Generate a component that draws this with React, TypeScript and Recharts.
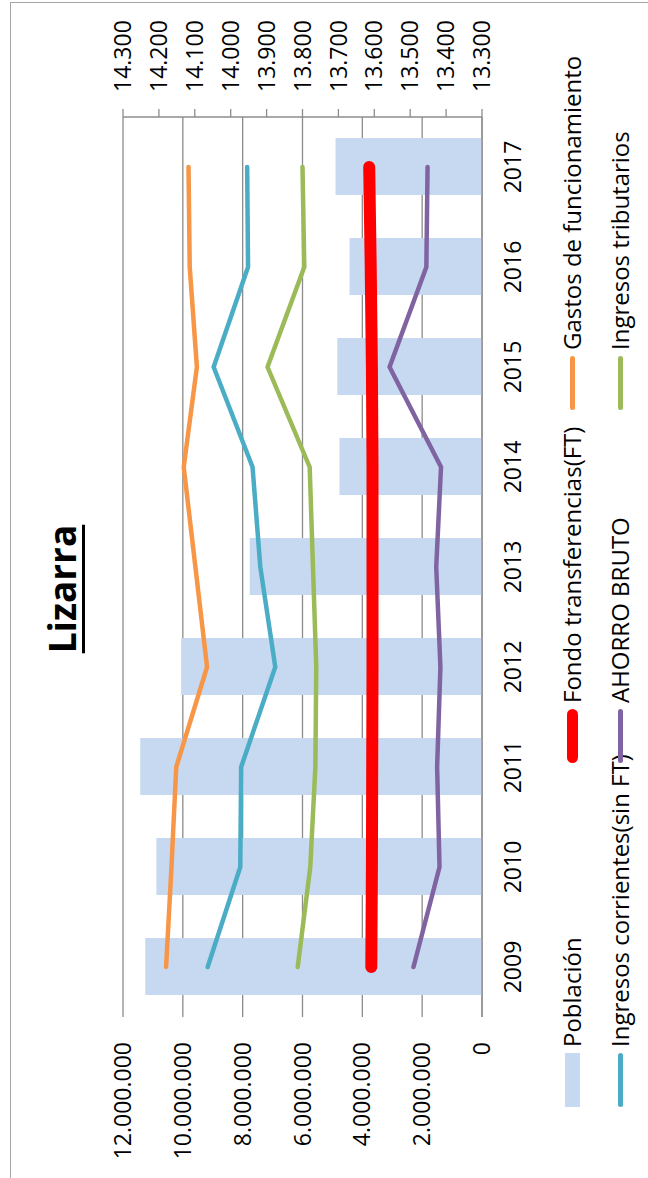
import React from 'react';
import { ComposedChart, Bar, Line, XAxis, YAxis, CartesianGrid } from 'recharts';

const years = ['2009', '2010', '2011', '2012', '2013', '2014', '2015', '2016', '2017'];
const poblacion = [14238, 14207, 14252, 14138, 13947, 13697, 13703, 13669, 13708];
const ingresosCorrientes = [9170000, 8080000, 8050000, 6910000, 7410000, 7670000, 8970000, 7820000, 7850000];
const gastos = [10560000, 10380000, 10220000, 9190000, 9580000, 9970000, 9530000, 9770000, 9810000];
const fondo = [3700000, 3680000, 3670000, 3660000, 3660000, 3660000, 3680000, 3720000, 3770000];
const ahorro = [2290000, 1420000, 1500000, 1390000, 1530000, 1370000, 3090000, 1860000, 1820000];
const tributarios = [6160000, 5740000, 5570000, 5540000, 5650000, 5760000, 7170000, 5940000, 6000000];

const leftTicks = [0, 2000000, 4000000, 6000000, 8000000, 10000000, 12000000];
const rightTicks = [13300, 13400, 13500, 13600, 13700, 13800, 13900, 14000, 14100, 14200, 14300];
const boundaryTicks = [0, 1, 2, 3, 4, 5, 6, 7, 8, 9];

const data = years.map((y, i) => ({
  year: y,
  poblacion: poblacion[i],
  ingresosCorrientes: ingresosCorrientes[i],
  gastos: gastos[i],
  fondo: fondo[i],
  ahorro: ahorro[i],
  tributarios: tributarios[i],
}));

const W = 1178;
const H = 648;
const FONT = '"Open Sans", sans-serif';
const GRID = '#8C8C8C';

const fmt = (v: number) => String(Math.round(v)).replace(/\B(?=(\d{3})+(?!\d))/g, '.');

const LeftTick = (props: any) => {
  const { y, payload } = props;
  return (
    <text x={136} y={y} dy="0.355em" textAnchor="end" fontSize={23} fontFamily={FONT} fill="#000">
      {fmt(payload.value)}
    </text>
  );
};

const RightTick = (props: any) => {
  const { y, payload } = props;
  return (
    <text x={1086} y={y} dy="0.355em" textAnchor="start" fontSize={23} fontFamily={FONT} fill="#000">
      {fmt(payload.value)}
    </text>
  );
};

const XTick = (props: any) => {
  const { x, payload } = props;
  return (
    <text x={x} y={505} dy="0.71em" textAnchor="middle" fontSize={23} fontFamily={FONT} fill="#000">
      {payload.value}
    </text>
  );
};

type LegendItem = { label: string; color: string; kind: 'rect' | 'line'; thick: number; left: number; top: number };

const legendItems: LegendItem[] = [
  { label: 'Población', color: '#C6D9F1', kind: 'rect', thick: 15, left: 71, top: 572 },
  { label: 'Fondo transferencias(FT)', color: '#FF0000', kind: 'line', thick: 11, left: 415, top: 572 },
  { label: 'Gastos de funcionamiento', color: '#F79646', kind: 'line', thick: 5, left: 768, top: 572 },
  { label: 'Ingresos corrientes(sin FT)', color: '#4BACC6', kind: 'line', thick: 5, left: 71, top: 620 },
  { label: 'AHORRO BRUTO', color: '#8064A2', kind: 'line', thick: 5, left: 415, top: 620 },
  { label: 'Ingresos tributarios', color: '#9BBB59', kind: 'line', thick: 5, left: 768, top: 620 },
];

const ChartLegend = () => (
  <>
    {legendItems.map((it) => (
      <div
        key={it.label}
        style={{
          position: 'absolute',
          left: it.left,
          top: it.top - 15,
          height: 30,
          display: 'flex',
          alignItems: 'center',
          whiteSpace: 'nowrap',
          fontFamily: FONT,
          fontSize: 24,
          lineHeight: 1,
          color: '#000',
        }}
      >
        <div
          style={{
            width: 54,
            height: it.thick,
            background: it.color,
            borderRadius: it.kind === 'line' ? it.thick / 2 : 0,
            marginRight: 6,
            flex: '0 0 auto',
          }}
        />
        <span>{it.label}</span>
      </div>
    ))}
  </>
);

export default function App() {
  return (
    <div
      style={{
        position: 'absolute',
        left: 0,
        top: 0,
        width: 648,
        height: 1178,
        overflow: 'hidden',
        background: '#fff',
      }}
    >
      <div
        style={{
          position: 'absolute',
          left: 0,
          top: 0,
          width: W,
          height: H,
          transformOrigin: '0 0',
          transform: 'translate(0px, 1178px) rotate(-90deg)',
          background: '#fff',
        }}
      >
        <div
          style={{
            position: 'absolute',
            left: -20,
            top: 10,
            width: 1196,
            height: 700,
            border: '1px solid #A6A6A6',
            boxSizing: 'border-box',
          }}
        />
        <div
          style={{
            position: 'absolute',
            left: 0,
            top: 43,
            width: W,
            textAlign: 'center',
            fontFamily: FONT,
            fontWeight: 700,
            fontSize: 37,
            lineHeight: 1,
            color: '#000',
          }}
        >
          <span style={{ textDecoration: 'underline', textDecorationThickness: 3, textUnderlineOffset: 6 }}>Lizarra</span>
        </div>
        <div style={{ position: 'absolute', left: 0, top: 0 }}>
          <ComposedChart width={W} height={H} data={data} margin={{ top: 123, right: 0, bottom: 0, left: 0 }}>
            <CartesianGrid xAxisId="cat" yAxisId="left" vertical={false} horizontal stroke={GRID} strokeWidth={1.3} />
            <XAxis
              xAxisId={0}
              type="number"
              domain={[0, 9]}
              ticks={boundaryTicks}
              allowDataOverflow
              height={0}
              axisLine={false}
              tick={false}
              tickLine={{ stroke: GRID, strokeWidth: 1.3 }}
              tickSize={5}
              interval={0}
            />
            <XAxis
              xAxisId="cat"
              dataKey="year"
              height={166}
              axisLine={{ stroke: GRID, strokeWidth: 1.3 }}
              tickLine={false}
              tick={<XTick />}
              interval={0}
            />
            <YAxis
              yAxisId="left"
              width={161}
              domain={[0, 12000000]}
              ticks={leftTicks}
              axisLine={false}
              tickLine={false}
              tick={<LeftTick />}
              interval={0}
            />
            <YAxis
              yAxisId="right"
              orientation="right"
              width={117}
              domain={[13300, 14300]}
              ticks={rightTicks}
              axisLine={{ stroke: GRID, strokeWidth: 1.3 }}
              tickLine={{ stroke: GRID, strokeWidth: 1.3 }}
              tickSize={8}
              tick={<RightTick />}
              interval={0}
            />
            <Bar xAxisId="cat" yAxisId="right" dataKey="poblacion" fill="#C6D9F1" barSize={57} isAnimationActive={false} />
            <Line xAxisId="cat" yAxisId="left" type="linear" dataKey="ingresosCorrientes" stroke="#4BACC6" strokeWidth={4.5} strokeLinecap="round" strokeLinejoin="round" dot={false} activeDot={false} isAnimationActive={false} />
            <Line xAxisId="cat" yAxisId="left" type="linear" dataKey="gastos" stroke="#F79646" strokeWidth={4.5} strokeLinecap="round" strokeLinejoin="round" dot={false} activeDot={false} isAnimationActive={false} />
            <Line xAxisId="cat" yAxisId="left" type="linear" dataKey="tributarios" stroke="#9BBB59" strokeWidth={4.5} strokeLinecap="round" strokeLinejoin="round" dot={false} activeDot={false} isAnimationActive={false} />
            <Line xAxisId="cat" yAxisId="left" type="linear" dataKey="fondo" stroke="#FF0000" strokeWidth={12} strokeLinecap="round" strokeLinejoin="round" dot={false} activeDot={false} isAnimationActive={false} />
            <Line xAxisId="cat" yAxisId="left" type="linear" dataKey="ahorro" stroke="#8064A2" strokeWidth={4.5} strokeLinecap="round" strokeLinejoin="round" dot={false} activeDot={false} isAnimationActive={false} />
          </ComposedChart>
        </div>
        <ChartLegend />
      </div>
    </div>
  );
}
